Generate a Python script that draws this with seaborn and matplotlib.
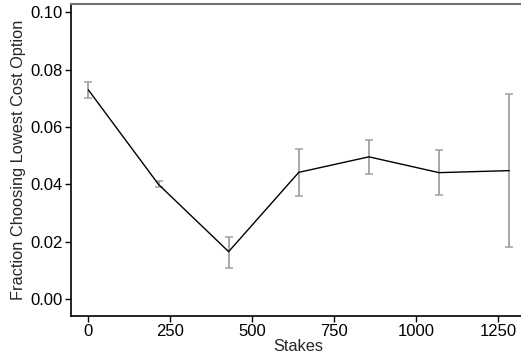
import matplotlib
matplotlib.use("Agg")
import matplotlib.pyplot as plt
import seaborn as sns
import pandas as pd
import numpy as np

stakes = [0, 214, 428, 642, 856, 1070, 1284]
fraction = [0.0729, 0.0400, 0.0166, 0.0442, 0.0496, 0.0441, 0.0448]
err_low = [0.0702, 0.0390, 0.0109, 0.0361, 0.0437, 0.0363, 0.0181]
err_high = [0.0755, 0.0411, 0.0216, 0.0525, 0.0555, 0.0520, 0.0715]
x_ticks = [0, 250, 500, 750, 1000, 1250]
y_ticks = [0.00, 0.02, 0.04, 0.06, 0.08, 0.10]

sns.set_style("ticks")
plt.rcParams['font.family'] = ['Liberation Sans', 'DejaVu Sans']

df = pd.DataFrame({"Stakes": stakes, "Fraction": fraction,
                   "lo": err_low, "hi": err_high})

fig = plt.figure(figsize=(5.21, 3.58), dpi=100)
ax = fig.add_axes([71/521, 1 - 316/358, 1 - 71/521 + 0.01, (316 - 4)/358])

yerr = np.vstack([df["Fraction"] - df["lo"], df["hi"] - df["Fraction"]])
ax.errorbar(df["Stakes"], df["Fraction"], yerr=yerr, fmt="none",
            ecolor="#a0a0a0", elinewidth=1.3, capsize=2.8, capthick=1.1, zorder=2)
sns.lineplot(data=df, x="Stakes", y="Fraction", color="black", linewidth=1.0,
             ax=ax, zorder=3)

ax.set_xlim(-53, 1336)
ax.set_ylim(-0.0058, 0.1028)
ax.set_xticks(x_ticks)
ax.set_yticks(y_ticks)
ax.set_yticklabels([f"{v:.2f}" for v in y_ticks])
ax.tick_params(axis="both", labelsize=12, direction="out", length=4,
               width=1, colors="black", pad=2)
ax.set_xlabel("Stakes", fontsize=11.8, labelpad=0)
ax.set_ylabel("Fraction Choosing Lowest Cost Option", fontsize=11.8, labelpad=3)

ax.spines["left"].set_color("black")
ax.spines["bottom"].set_color("black")
ax.spines["left"].set_linewidth(1.2)
ax.spines["bottom"].set_linewidth(1.2)
ax.spines["top"].set_color("#707070")
ax.spines["top"].set_linewidth(1.5)
ax.spines["right"].set_visible(False)

fig.savefig("out.png", dpi=100)
